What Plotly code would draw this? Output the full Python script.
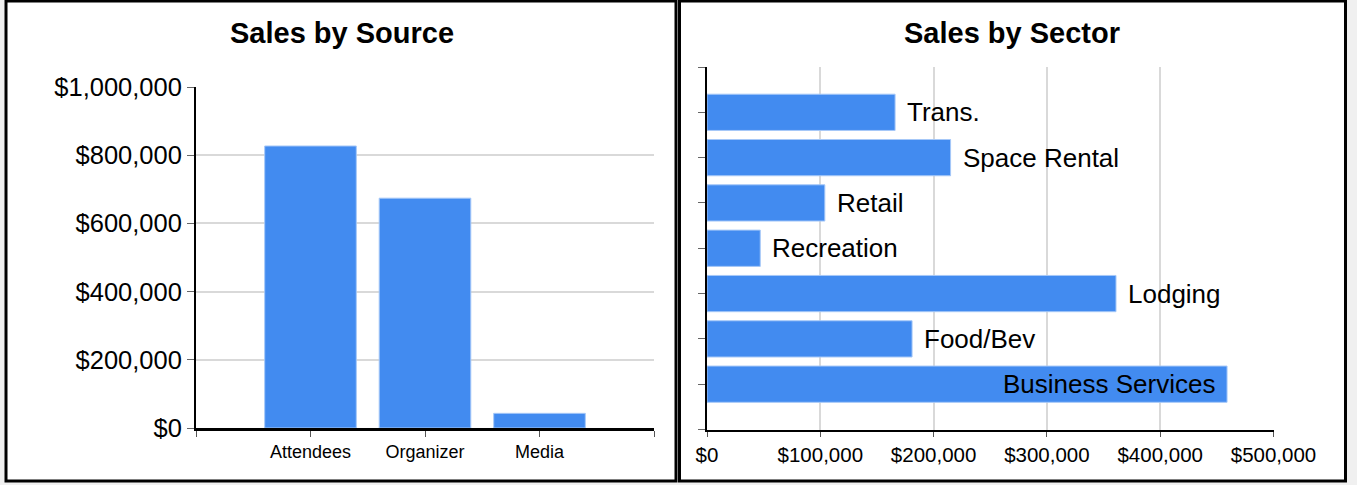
import plotly.graph_objects as go

W, H = 1357, 485

# ---- data ----
source_cats = ["Attendees", "Organizer", "Media"]
source_vals = [827000, 674000, 43000]
source_ticks = [0, 200000, 400000, 600000, 800000, 1000000]
source_tick_labels = ["$0", "$200,000", "$400,000", "$600,000", "$800,000", "$1,000,000"]

sector_cats = ["Trans.", "Space Rental", "Retail", "Recreation", "Lodging", "Food/Bev", "Business Services"]
sector_vals = [166000, 215000, 104000, 47000, 361000, 181000, 459000]
sector_label_inside = [False, False, False, False, False, False, True]
sector_ticks = [0, 100000, 200000, 300000, 400000, 500000]
sector_tick_labels = ["$0", "$100,000", "$200,000", "$300,000", "$400,000", "$500,000"]

BLUE = "#428bf0"
FONT = "Arial, Liberation Sans, sans-serif"


def dx(px):
    return px / W


def dy(py):
    return 1 - py / H


n_src = len(source_cats)
src_pos = list(range(1, n_src + 1))
n_sec = len(sector_cats)
sec_pos = [n_sec - i for i in range(n_sec)]

fig = go.Figure()
fig.add_trace(go.Bar(
    x=src_pos, y=source_vals, width=0.8, xaxis="x", yaxis="y",
    marker=dict(color=BLUE, line=dict(color="#a6c8f8", width=1)),
    hoverinfo="skip", showlegend=False,
))
fig.add_trace(go.Bar(
    x=sector_vals, y=sec_pos, orientation="h", width=0.8, xaxis="x2", yaxis="y2",
    marker=dict(color=BLUE, line=dict(color="#a6c8f8", width=1)),
    hoverinfo="skip", showlegend=False,
))

annotations = []
for cat, v, p, inside in zip(sector_cats, sector_vals, sec_pos, sector_label_inside):
    annotations.append(dict(
        x=v, y=p, xref="x2", yref="y2", text=cat, showarrow=False,
        xanchor="right" if inside else "left", yanchor="middle",
        xshift=-10 if inside else 10,
        font=dict(family=FONT, size=26, color="black"),
    ))

annotations.append(dict(x=dx(341.5), y=dy(33), xref="paper", yref="paper",
                        text="<b>Sales by Source</b>", showarrow=False,
                        xanchor="center", yanchor="middle",
                        font=dict(family=FONT, size=29, color="black")))
annotations.append(dict(x=dx(1012), y=dy(33), xref="paper", yref="paper",
                        text="<b>Sales by Sector</b>", showarrow=False,
                        xanchor="center", yanchor="middle",
                        font=dict(family=FONT, size=29, color="black")))

shapes = [
    dict(type="rect", xref="paper", yref="paper", layer="below",
         x0=dx(6), x1=dx(676), y0=dy(481), y1=dy(1),
         fillcolor="white", line=dict(color="black", width=3)),
    dict(type="rect", xref="paper", yref="paper", layer="below",
         x0=dx(679.5), x1=dx(1345.5), y0=dy(481), y1=dy(1),
         fillcolor="white", line=dict(color="black", width=3)),
]

fig.update_layout(
    width=W, height=H, autosize=False,
    margin=dict(l=0, r=0, t=0, b=0),
    paper_bgcolor="#f0f0f0", plot_bgcolor="rgba(0,0,0,0)",
    font=dict(family=FONT, color="black"),
    bargap=0.2,
    xaxis=dict(
        domain=[dx(196), dx(654)], range=[0, n_src + 1], anchor="y",
        tickmode="array", tickvals=list(range(0, n_src + 2)),
        ticktext=[""] + source_cats + [""],
        ticks="outside", ticklen=6, tickcolor="#555", tickwidth=1,
        showline=True, linecolor="black", linewidth=2.5,
        showgrid=False, zeroline=False, automargin=False,
        tickfont=dict(family=FONT, size=18, color="black"),
    ),
    yaxis=dict(
        domain=[dy(428), dy(87)], range=[0, 1000000], anchor="x",
        tickmode="array", tickvals=source_ticks, ticktext=source_tick_labels,
        ticks="outside", ticklen=7, tickcolor="#666", tickwidth=1,
        showline=True, linecolor="black", linewidth=2,
        showgrid=True, gridcolor="#d9d9d9", gridwidth=2, zeroline=False,
        automargin=False,
        tickfont=dict(family=FONT, size=25.5, color="black"),
    ),
    xaxis2=dict(
        domain=[dx(707), dx(1273.5)], range=[0, 500000], anchor="y2",
        tickmode="array", tickvals=sector_ticks, ticktext=sector_tick_labels,
        ticks="outside", ticklen=5, tickcolor="#555", tickwidth=1,
        showline=True, linecolor="black", linewidth=2.5,
        showgrid=True, gridcolor="#d9d9d9", gridwidth=2, zeroline=False,
        automargin=False,
        tickfont=dict(family=FONT, size=20.5, color="black"),
    ),
    yaxis2=dict(
        domain=[dy(429.5), dy(67)], range=[0, n_sec + 1], anchor="x2",
        tickmode="array", tickvals=list(range(0, n_sec + 2)),
        ticktext=[""] * (n_sec + 2),
        ticks="outside", ticklen=7, tickcolor="#666", tickwidth=1,
        showline=True, linecolor="black", linewidth=2.5,
        showgrid=False, zeroline=False, automargin=False,
    ),
    annotations=annotations,
    shapes=shapes,
)

fig.write_html(
    "out.html",
    config={"displayModeBar": False, "staticPlot": True},
    post_script="document.body.style.margin='0';document.body.style.padding='0';document.body.style.overflow='hidden';",
)
